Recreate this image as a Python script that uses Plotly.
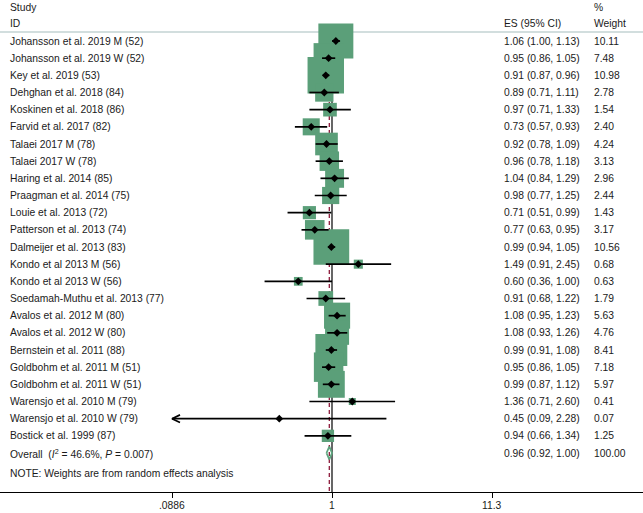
import math
import plotly.graph_objects as go

# ---------------- data ----------------
studies = [
    "Johansson et al. 2019 M (52)", "Johansson et al. 2019 W (52)", "Key et al. 2019 (53)",
    "Dehghan et al. 2018 (84)", "Koskinen et al. 2018 (86)", "Farvid et al. 2017 (82)",
    "Talaei 2017 M (78)", "Talaei 2017 W (78)", "Haring et al. 2014 (85)",
    "Praagman et al. 2014 (75)", "Louie et al. 2013 (72)", "Patterson et al. 2013 (74)",
    "Dalmeijer et al. 2013 (83)", "Kondo et al 2013 M (56)", "Kondo et al 2013 W (56)",
    "Soedamah-Muthu et al. 2013 (77)", "Avalos et al. 2012 M (80)", "Avalos et al. 2012 W (80)",
    "Bernstein et al. 2011 (88)", "Goldbohm et al. 2011 M (51)", "Goldbohm et al. 2011 W (51)",
    "Warensjo et al. 2010 M (79)", "Warensjo et al. 2010 W (79)", "Bostick et al. 1999 (87)",
]
es = [1.06, 0.95, 0.91, 0.89, 0.97, 0.73, 0.92, 0.96, 1.04, 0.98, 0.71, 0.77,
      0.99, 1.49, 0.60, 0.91, 1.08, 1.08, 0.99, 0.95, 0.99, 1.36, 0.45, 0.94]
ci_low = [1.00, 0.86, 0.87, 0.71, 0.71, 0.57, 0.78, 0.78, 0.84, 0.77, 0.51, 0.63,
          0.94, 0.91, 0.36, 0.68, 0.95, 0.93, 0.91, 0.86, 0.87, 0.71, 0.088, 0.66]
ci_high = [1.13, 1.05, 0.96, 1.11, 1.33, 0.93, 1.09, 1.18, 1.29, 1.25, 0.99, 0.95,
           1.05, 2.45, 1.00, 1.22, 1.23, 1.26, 1.08, 1.05, 1.12, 2.60, 2.28, 1.34]
weights = [10.11, 7.48, 10.98, 2.78, 1.54, 2.40, 4.24, 3.13, 2.96, 2.44, 1.43, 3.17,
           10.56, 0.68, 0.63, 1.79, 5.63, 4.76, 8.41, 7.18, 5.97, 0.41, 0.07, 1.25]
overall_label = "Overall  (<i>I</i><sup>2</sup> = 46.6%, <i>P</i> = 0.007)"
overall_es, overall_low, overall_high, overall_weight = 0.96, 0.92, 1.00, 100.00
tick_vals = [0.0886, 1, 11.3]
tick_text = [".0886", "1", "11.3"]
note_text = "NOTE: Weights are from random effects analysis"

# ---------------- layout geometry (pixels) ----------------
W, H = 643, 513
ROW0_PX = 41.0
ROW_STEP = (453.0 - 41.0) / 24.0
AXIS_PX = 492.0
X1_PX, DEC_PX = 332.0, 152.0          # pixel of x=1, pixels per decade
HDR_LINE_PX = 32.0

def row_of(px):
    return (px - ROW0_PX) / ROW_STEP

def xpaper(px):
    return px / W

GREEN = "#5b9f79"
TEXT = "#1a1a1a"
FONT = "Liberation Sans, Arial, sans-serif"
FS = 10.3

n = len(studies)
rows = list(range(n))
overall_row = n
xmin = tick_vals[0]

fig = go.Figure()

# null line and overall dashed line
top_row = row_of(HDR_LINE_PX)
axis_row = row_of(AXIS_PX)
fig.add_trace(go.Scatter(x=[1, 1], y=[top_row, axis_row], mode="lines",
                         line=dict(color="black", width=1.2), hoverinfo="skip"))
fig.add_trace(go.Scatter(x=[overall_es, overall_es], y=[top_row, axis_row], mode="lines",
                         line=dict(color="#8e1b3c", width=1.3, dash="4px,3px"), hoverinfo="skip"))

# weight boxes (area proportional to weight)
box_k = 11.0
fig.add_trace(go.Scatter(
    x=es, y=rows, mode="markers",
    marker=dict(symbol="square", size=[box_k * math.sqrt(w) for w in weights],
                color=GREEN, opacity=1, line=dict(width=0)),
    hoverinfo="skip"))

# CI lines (clipped at axis minimum with arrow)
cx, cy = [], []
ax_, ay_ = [], []
head_fac = 10 ** (8 / DEC_PX)
head_dy = 3.8 / ROW_STEP
for r, lo, hi in zip(rows, ci_low, ci_high):
    lo_c = max(lo, xmin)
    cx += [lo_c, hi, None]
    cy += [r, r, None]
    if lo < xmin:
        ax_ += [xmin * head_fac, xmin, xmin * head_fac, None]
        ay_ += [r - head_dy, r, r + head_dy, None]
fig.add_trace(go.Scatter(x=cx, y=cy, mode="lines", line=dict(color="black", width=1.7),
                         hoverinfo="skip"))
if ax_:
    fig.add_trace(go.Scatter(x=ax_, y=ay_, mode="lines", line=dict(color="black", width=1.7),
                             hoverinfo="skip"))

# point estimates
fig.add_trace(go.Scatter(x=es, y=rows, mode="markers",
                         marker=dict(symbol="diamond", size=6, color="black", opacity=1),
                         hoverinfo="skip"))

# overall diamond
dh = 6.5 / ROW_STEP
fig.add_trace(go.Scatter(
    x=[overall_low, overall_es, overall_high, overall_es, overall_low],
    y=[overall_row, overall_row - dh, overall_row, overall_row + dh, overall_row],
    mode="lines", line=dict(color="#5ea57f", width=1.8), hoverinfo="skip"))

# ---------------- text ----------------
ann = []
def txt(px_x, row, s, anchor="left"):
    ann.append(dict(x=xpaper(px_x), y=row, xref="paper", yref="y", text=s, showarrow=False,
                    xanchor=anchor, yanchor="middle", font=dict(size=FS, color=TEXT, family=FONT)))

txt(8, row_of(7), "Study")
txt(8, row_of(23), "ID")
txt(502, row_of(23), "ES (95% CI)")
txt(592, row_of(7), "%")
txt(592, row_of(23), "Weight")
for r, s, e, lo, hi, w in zip(rows, studies, es, ci_low, ci_high, weights):
    txt(8, r, s)
    txt(502, r, f"{e:.2f} ({lo:.2f}, {hi:.2f})")
    txt(592, r, f"{w:.2f}")
txt(8, overall_row, overall_label)
txt(502, overall_row, f"{overall_es:.2f} ({overall_low:.2f}, {overall_high:.2f})")
txt(592, overall_row, f"{overall_weight:.2f}")
txt(8, row_of(473), note_text)

# tick labels (placed explicitly under the axis)
plot_h = AXIS_PX
for v, t in zip(tick_vals, tick_text):
    ann.append(dict(x=math.log10(v), y=-(505 - AXIS_PX) / plot_h, xref="x", yref="paper",
                    text=t, showarrow=False, xanchor="center", yanchor="middle",
                    font=dict(size=FS, color=TEXT, family=FONT)))

hdr_row = row_of(HDR_LINE_PX)
fig.update_layout(
    width=W, height=H,
    margin=dict(l=0, r=0, t=0, b=H - AXIS_PX, pad=0),
    paper_bgcolor="white", plot_bgcolor="white",
    showlegend=False,
    annotations=ann,
    shapes=[dict(type="line", xref="paper", yref="y", x0=0, x1=1, y0=hdr_row, y1=hdr_row,
                 line=dict(color="#c3d3d3", width=1.5), layer="below")],
    xaxis=dict(type="log", range=[(0 - X1_PX) / DEC_PX, (W - X1_PX) / DEC_PX],
               tickvals=tick_vals, showticklabels=False, ticks="outside", ticklen=5,
               tickcolor="black", tickwidth=1, showline=True, linecolor="black", linewidth=1,
               showgrid=False, zeroline=False),
    yaxis=dict(range=[row_of(AXIS_PX), row_of(0)], visible=False, showgrid=False, zeroline=False),
)

fig.write_html("out.html", config={"displayModeBar": False},
               post_script="document.body.style.margin='0px';"
                           "document.documentElement.style.overflow='hidden';")
